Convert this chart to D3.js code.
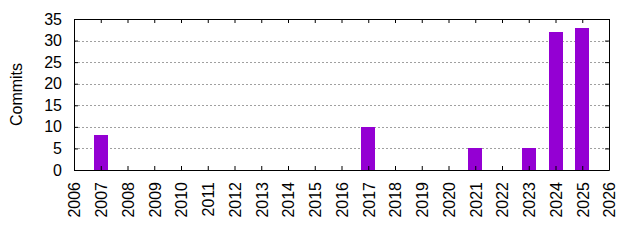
<!DOCTYPE html>
<html>
<head>
<meta charset="utf-8">
<script src="https://cdn.jsdelivr.net/npm/d3@7"></script>
<style>
body { margin: 0; background: #fff; }
</style>
</head>
<body>
<script>
var years = [2007, 2017, 2021, 2023, 2024, 2025];
var commits = [8, 10, 5, 5, 32, 33];
var xTicks = d3.range(2006, 2027);
var yTicks = [0, 5, 10, 15, 20, 25, 30, 35];
var yLabel = "Commits";

var width = 640, height = 240;
var margin = {left: 74, right: 31, top: 19, bottom: 70};
var font = "'Liberation Sans', Arial, sans-serif";

var svg = d3.select("body")
    .append("svg")
    .attr("width", width)
    .attr("height", height);

var x = d3.scaleLinear()
    .domain([2006, 2026])
    .range([margin.left, width - margin.right]);
var y = d3.scaleLinear()
    .domain([0, 35])
    .range([height - margin.bottom, margin.top]);

var barW = (x(2007) - x(2006)) * 0.52;

// grid
svg.append("g")
    .selectAll("line")
    .data(yTicks.filter(function(d) { return d > 0 && d < 35; }))
    .enter().append("line")
    .attr("x1", x(2006))
    .attr("x2", x(2026))
    .attr("y1", function(d) { return Math.round(y(d)) + 0.5; })
    .attr("y2", function(d) { return Math.round(y(d)) + 0.5; })
    .attr("stroke", "#a0a0a0")
    .attr("stroke-dasharray", "2,2");

// bars
svg.append("g")
    .selectAll("rect")
    .data(years)
    .enter().append("rect")
    .attr("x", function(d) { return Math.round(x(d) - barW / 2); })
    .attr("width", Math.round(barW))
    .attr("y", function(d, i) { return Math.round(y(commits[i])); })
    .attr("height", function(d, i) { return Math.round(y(0)) - Math.round(y(commits[i])); })
    .attr("fill", "#9400d3");

// axes, ticks pointing inward
var bottom = svg.append("g")
    .attr("transform", "translate(0," + Math.round(y(0)) + ")")
    .call(d3.axisBottom(x).tickValues(xTicks).tickFormat(d3.format("d")).tickSizeInner(-4).tickSizeOuter(0));
var top = svg.append("g")
    .attr("transform", "translate(0," + Math.round(y(35)) + ")")
    .call(d3.axisTop(x).tickValues(xTicks).tickFormat("").tickSizeInner(-4).tickSizeOuter(0));
var left = svg.append("g")
    .attr("transform", "translate(" + Math.round(x(2006)) + ",0)")
    .call(d3.axisLeft(y).tickValues(yTicks).tickSizeInner(-4).tickSizeOuter(0).tickPadding(12));
var right = svg.append("g")
    .attr("transform", "translate(" + Math.round(x(2026)) + ",0)")
    .call(d3.axisRight(y).tickValues(yTicks).tickFormat("").tickSizeInner(-4).tickSizeOuter(0));

svg.selectAll(".domain").attr("stroke", "#000");
svg.selectAll(".tick line").attr("stroke", "#000");

bottom.selectAll("text")
    .attr("transform", "rotate(-90)")
    .attr("text-anchor", "end")
    .attr("x", -12)
    .attr("y", 0)
    .attr("dy", "0.36em");

svg.append("text")
    .attr("transform", "translate(16.5," + ((y(0) + y(35)) / 2) + ") rotate(-90)")
    .attr("text-anchor", "middle")
    .attr("dy", "0.36em")
    .text(yLabel);

svg.selectAll("text")
    .style("font-family", font)
    .style("font-size", "16px")
    .attr("fill", "#000");
</script>
</body>
</html>
